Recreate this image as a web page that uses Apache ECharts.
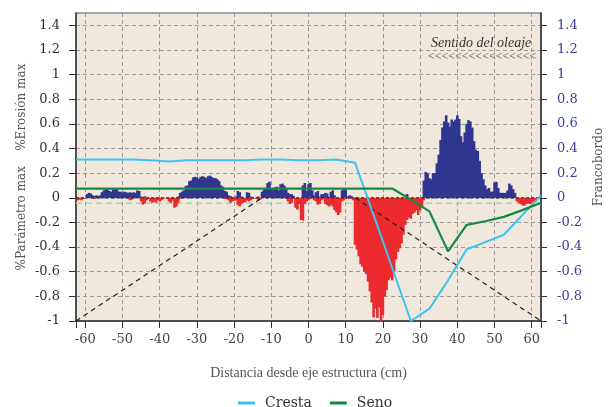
<!DOCTYPE html>
<html><head><meta charset="utf-8">
<script src="https://cdn.jsdelivr.net/npm/echarts@6/dist/echarts.min.js"></script>
<style>html,body{margin:0;padding:0;background:#fff}#c{width:613px;height:407px}</style>
</head><body><div id="c"></div>
<script>
// bin centres (cm)
const positions = [
-62,-61.5,-61,-60.5,-60,-59.5,-59,-58.5,-58,-57.5,-57,-56.5,-56,-55.5,-55,-54.5,-54,-53.5,-53,-52.5,
-52,-51.5,-51,-50.5,-50,-49.5,-49,-48.5,-48,-47.5,-47,-46.5,-46,-45.5,-45,-44.5,-44,-43.5,-43,-42.5,
-42,-41.5,-41,-40.5,-40,-39.5,-39,-38.5,-38,-37.5,-37,-36.5,-36,-35.5,-35,-34.5,-34,-33.5,-33,-32.5,
-32,-31.5,-31,-30.5,-30,-29.5,-29,-28.5,-28,-27.5,-27,-26.5,-26,-25.5,-25,-24.5,-24,-23.5,-23,-22.5,
-22,-21.5,-21,-20.5,-20,-19.5,-19,-18.5,-18,-17.5,-17,-16.5,-16,-15.5,-15,-14.5,-14,-13.5,-13,-12.5,
-12,-11.5,-11,-10.5,-10,-9.5,-9,-8.5,-8,-7.5,-7,-6.5,-6,-5.5,-5,-4.5,-4,-3.5,-3,-2.5,
-2,-1.5,-1,-0.5,0,0.5,1,1.5,2,2.5,3,3.5,4,4.5,5,5.5,6,6.5,7,7.5,
8,8.5,9,9.5,10,10.5,11,11.5,12,12.5,13,13.5,14,14.5,15,15.5,16,16.5,17,17.5,
18,18.5,19,19.5,20,20.5,21,21.5,22,22.5,23,23.5,24,24.5,25,25.5,26,26.5,27,27.5,
28,28.5,29,29.5,30,30.5,31,31.5,32,32.5,33,33.5,34,34.5,35,35.5,36,36.5,37,37.5,
38,38.5,39,39.5,40,40.5,41,41.5,42,42.5,43,43.5,44,44.5,45,45.5,46,46.5,47,47.5,
48,48.5,49,49.5,50,50.5,51,51.5,52,52.5,53,53.5,54,54.5,55,55.5,56,56.5,57,57.5,
58,58.5,59,59.5,60,60.5,61,61.5,62
];
// bars above zero (blue)
const barsUp = [
0,0,0,0,0,0.03,0.04,0.035,0.02,0.015,0.02,0.015,0.02,0.045,0.06,0.07,0.065,0.055,0.05,0.07,
0.075,0.07,0.05,0.05,0.045,0.05,0.045,0.04,0.045,0.04,0.045,0.04,0.06,0.055,0.01,0,0.012,0,0,0,
0,0,0,0,0,0,0,0,0,0,0,0,0,0,0.01,0.04,0.05,0.06,0.095,0.1,
0.135,0.14,0.165,0.17,0.165,0.155,0.17,0.175,0.17,0.16,0.175,0.18,0.17,0.16,0.16,0.15,0.135,0.1,0.09,0.055,
0.05,0.02,0.015,0,0,0.01,0.055,0.045,0.01,0,0,0.045,0.04,0.01,0,0,0,0.01,0,0.05,
0.065,0.07,0.12,0.13,0.08,0.07,0.085,0.09,0.06,0.11,0.115,0.1,0.07,0.04,0.03,0.03,0.015,0,0,0,
0,0.1,0.12,0.055,0.11,0.12,0.06,0.02,0.045,0.055,0.01,0.03,0.03,0.04,0.035,0.01,0.05,0.06,0.02,0,
0,0,0.06,0.07,0.065,0.01,0.02,0.015,0,0,0,0,0,0,0,0,0,0,0,0,
0,0,0,0,0,0,0,0,0,0,0,0,0,0,0,0,0,0.03,0,0,
0,0,0,0,0,0,0.14,0.21,0.2,0.16,0.15,0.2,0.2,0.28,0.35,0.47,0.57,0.62,0.67,0.61,
0.58,0.635,0.62,0.635,0.67,0.64,0.5,0.45,0.53,0.6,0.63,0.62,0.57,0.46,0.39,0.38,0.3,0.2,0.15,0.1,
0.07,0.08,0.05,0.05,0.125,0.13,0.08,0.04,0.04,0.04,0.04,0.06,0.115,0.1,0.07,0.04,0,0,0,0,
0,0,0,0,0,0,0,0,0
];
// bars below zero (red)
const barsDown = [
-0.02,-0.015,-0.02,-0.01,0,0,0,0,0,-0.01,0,0,0,0,0,0,0,0,0,0,
0,0,0,0,0,0,0,0,-0.02,-0.015,0,0,0,0,-0.03,-0.055,-0.045,-0.02,-0.01,-0.03,
-0.04,-0.03,-0.04,-0.02,-0.03,-0.02,-0.01,0,-0.01,-0.03,-0.04,-0.02,-0.08,-0.07,-0.04,-0.01,0,0,0,0,
0,0,0,0,0,0,0,0,0,0,0,0,0,0,0,0,0,0,0,-0.01,
-0.01,-0.02,-0.04,-0.03,-0.025,-0.02,-0.06,-0.07,-0.05,-0.04,-0.035,-0.02,-0.03,-0.02,-0.01,0,-0.01,-0.02,-0.015,0,
0,0,0,0,0,0,0,0,0,0,0,0,-0.01,-0.03,-0.05,-0.04,-0.01,-0.08,-0.095,-0.05,
-0.18,-0.185,-0.05,-0.03,-0.02,-0.01,0,-0.02,-0.03,-0.055,-0.05,-0.02,-0.01,-0.05,-0.06,-0.07,-0.06,-0.07,-0.1,-0.12,
-0.14,-0.12,-0.03,-0.02,-0.01,0,-0.01,0,-0.02,-0.38,-0.42,-0.475,-0.54,-0.56,-0.6,-0.62,-0.68,-0.76,-0.85,-0.97,
-0.9,-0.975,-0.89,-1.0,-0.95,-0.8,-0.75,-0.67,-0.65,-0.67,-0.6,-0.5,-0.44,-0.41,-0.37,-0.3,-0.22,-0.18,-0.16,-0.17,
-0.13,-0.12,-0.1,-0.14,-0.1,-0.08,-0.02,0,0,0,0,0,0,0,0,0,0,0,0,0,
0,0,0,0,0,0,0,0,0,0,0,0,0,0,0,0,0,0,0,0,
0,0,0,0,0,0,0,0,0,0,0,0,0,0,0,0,-0.03,-0.04,-0.05,-0.06,
-0.065,-0.05,-0.045,-0.05,-0.04,-0.03,-0.03,-0.01,0
];
const profileX = [-62.5,-57.5,-52.5,-47.5,-42.5,-37.5,-32.5,-27.5,-22.5,-17.5,-12.5,-7.5,-2.5,2.5,7.5,12.5,17.5,22.5,27.5,32.5,37.5,42.5,47.5,52.5,57.5,62.5];
const crestaY = [0.31,0.31,0.31,0.31,0.305,0.295,0.305,0.305,0.305,0.305,0.31,0.31,0.305,0.305,0.31,0.285,-0.14,-0.57,-1.0,-0.9,-0.67,-0.42,-0.36,-0.3,-0.14,0.02];
const senoY = [0.075,0.075,0.075,0.075,0.075,0.075,0.075,0.075,0.075,0.075,0.075,0.075,0.075,0.075,0.075,0.075,0.075,0.075,-0.015,-0.11,-0.435,-0.22,-0.19,-0.155,-0.1,-0.04];
const slopeLeft = [[-62.5,-1],[-12.5,0]];
const slopeRight = [[12.5,0],[62.5,-1]];
const zeroLine = [[-62.5,0],[62.5,0]];
const levelLine = [[-62.5,-0.045],[62.5,-0.045]];
const xTickLabels = [-60,-50,-40,-30,-20,-10,0,10,20,30,40,50,60];
const xTickMarks = [-62.5,-60,-50,-40,-30,-20,-10,0,10,20,30,40,50,60,62.5];
const yTickLabels = [-1,-0.8,-0.6,-0.4,-0.2,0,0.2,0.4,0.6,0.8,1,1.2,1.4];

const serif = 'DejaVu Serif';
const chart = echarts.init(document.getElementById('c'), null, {renderer:'canvas'});
const pair = (xs, ys) => xs.map((x,i)=>[x, ys[i]]);
const gridDash = {color:'#9a9a9a', width:1, type:[4,3]};

chart.setOption({
  animation:false,
  grid:{left:76, right:60, top:13, bottom:86, show:true, backgroundColor:'#f0e8dc', borderColor:'#8a8a8a', borderWidth:1.5},
  legend:{
    data:['Cresta','Seno'], left:233, top:391, icon:'rect', itemWidth:17, itemHeight:3, itemGap:18,
    textStyle:{fontFamily:serif, fontSize:14, color:'#333', padding:[0,0,0,5]}
  },
  xAxis:{
    type:'value', min:-62.5, max:62.5,
    name:'Distancia desde eje estructura (cm)', nameLocation:'middle', nameGap:45,
    nameTextStyle:{fontFamily:'Liberation Serif', fontSize:14, color:'#555'},
    axisLine:{onZero:false, lineStyle:{color:'#333', width:1.5}},
    axisTick:{show:true, length:7, customValues:xTickMarks, lineStyle:{color:'#333'}},
    axisLabel:{customValues:xTickLabels, margin:12, fontFamily:serif, fontSize:13, color:'#444'},
    splitLine:{show:true, lineStyle:gridDash}
  },
  yAxis:[{
    type:'value', min:-1, max:1.5, interval:0.2, position:'left',
    name:'%Parámetro max    %Erosión max', nameLocation:'middle', nameGap:48, nameRotate:90, nameMoveOverlap:false,
    nameTextStyle:{fontFamily:serif, fontSize:12, color:'#555'},
    axisLine:{show:true, onZero:false, lineStyle:{color:'#333', width:1.5}},
    axisTick:{show:true, length:7, customValues:yTickLabels, lineStyle:{color:'#333'}},
    axisLabel:{customValues:yTickLabels, margin:16, fontFamily:serif, fontSize:13, color:'#333'},
    splitLine:{show:true, lineStyle:gridDash}
  },{
    type:'value', min:-1, max:1.5, interval:0.2, position:'right',
    name:'Francobordo', nameLocation:'middle', nameGap:38, nameRotate:90,
    nameTextStyle:{fontFamily:serif, fontSize:12, color:'#555'},
    axisLine:{show:true, onZero:false, lineStyle:{color:'#333', width:1.5}},
    axisTick:{show:true, length:6, customValues:yTickLabels, lineStyle:{color:'#333'}},
    axisLabel:{customValues:yTickLabels, margin:16, fontFamily:serif, fontSize:13, color:'#3b3f9b'},
    splitLine:{show:false}
  }],
  graphic:[
    {type:'text', left:431, top:36, style:{text:'Sentido del oleaje', font:'italic 14px "Liberation Serif"', fill:'#333'}},
    {type:'text', left:428, top:51, style:{text:'<<<<<<<<<<<<<<<<', font:'12px "Liberation Serif"', fill:'#444'}}
  ],
  series:[
    {type:'line', data:levelLine, symbol:'none', silent:true, lineStyle:{color:'#9fd8b0', width:1.5, type:[6,4]}, z:1},
    {type:'bar', data:pair(positions, barsUp), barWidth:2.6, barGap:'-100%', itemStyle:{color:'#2f3690'}, z:2},
    {type:'bar', data:pair(positions, barsDown), barWidth:2.6, barGap:'-100%', itemStyle:{color:'#ec2a2e'}, z:2},
    {type:'line', data:zeroLine, symbol:'none', silent:true, lineStyle:{color:'#222', width:1, type:[3,2]}, z:3},
    {type:'line', data:slopeLeft, symbol:'none', silent:true, lineStyle:{color:'#222', width:1.2, type:[5,4]}, z:3},
    {type:'line', data:slopeRight, symbol:'none', silent:true, lineStyle:{color:'#222', width:1.2, type:[5,4]}, z:3},
    {name:'Cresta', type:'line', data:pair(profileX, crestaY), symbol:'none', lineStyle:{color:'#3ec3ef', width:2}, itemStyle:{color:'#3ec3ef'}, z:4},
    {name:'Seno', type:'line', data:pair(profileX, senoY), symbol:'none', lineStyle:{color:'#148a40', width:2.2}, itemStyle:{color:'#148a40'}, z:4}
  ]
});
</script></body></html>
